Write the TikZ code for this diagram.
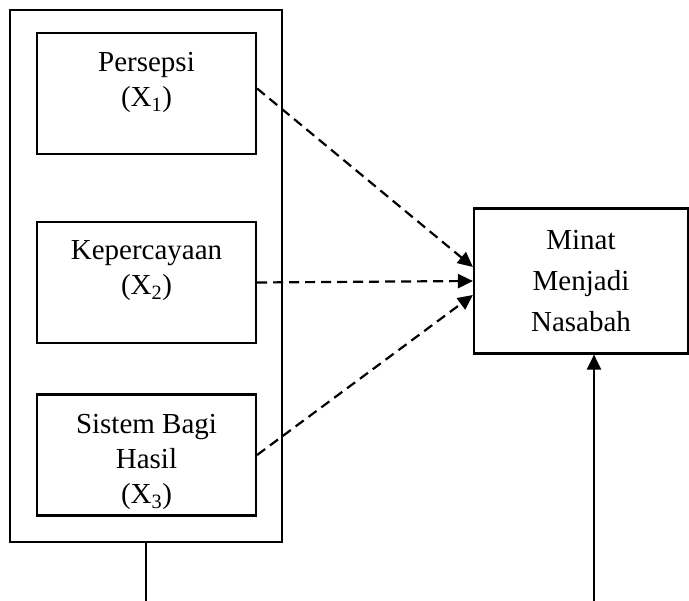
\documentclass[tikz,border=0pt]{standalone}
\usepackage{fontspec}
\setmainfont{Liberation Serif}
\usetikzlibrary{positioning, arrows.meta}

\begin{document}
\begin{tikzpicture}[
  x=1pt, y=1pt,
  line width=2.2pt,
  var box/.style={
    draw, rectangle, minimum width=219pt, minimum height=121pt, inner sep=0pt,
  },
  var text/.style={
    align=center, inner sep=0pt,
    font=\fontsize{29}{35}\selectfont,
  },
  dep box/.style={
    draw, rectangle, minimum width=214pt, minimum height=145pt, inner sep=0pt,
    align=center, font=\fontsize{29}{41}\selectfont,
  },
  link/.style={
    dash pattern=on 10pt off 6pt, -{Triangle[length=15pt, width=14pt]},
  },
  support/.style={
    -{Triangle[length=15pt, width=14pt]},
  }
  ]
  \useasboundingbox (0,0) rectangle (689,601);
  % outer frame holding the three variables
  \node[draw, rectangle, minimum width=272pt, minimum height=532pt, inner sep=0pt]
    (group) at (146,325) {};
  \node[var box] (persepsi) at (146.5,507.5) {};
  \node[var box] (percaya) at (146.5,318.5) {};
  \node[var box] (bagihasil) at (146.5,146) {};
  \node[var text, below=19pt of persepsi.north] (persepsi text) {Persepsi\\(X\textsubscript{1})};
  \node[var text, below=19pt of percaya.north] (percaya text) {Kepercayaan\\(X\textsubscript{2})};
  \node[var text, below=20pt of bagihasil.north] (bagihasil text) {Sistem Bagi\\Hasil\\(X\textsubscript{3})};
  % dependent variable
  \node[dep box] (minat) at (581,320) {Minat\\Menjadi\\Nasabah};
  % links
  \draw[link] ([yshift=5pt]persepsi.east) -- ([yshift=14pt]minat.west);
  \draw[link] (percaya.east) -- (minat.west);
  \draw[link] (bagihasil.east) -- ([yshift=-14pt]minat.west);
  % lines at the bottom
  \coordinate (group foot) at (146,0);
  \coordinate (minat foot) at (594,0);
  \draw (group.south) -- (group foot);
  \draw[support] (minat foot) -- (minat foot |- minat.south);
\end{tikzpicture}
\end{document}
